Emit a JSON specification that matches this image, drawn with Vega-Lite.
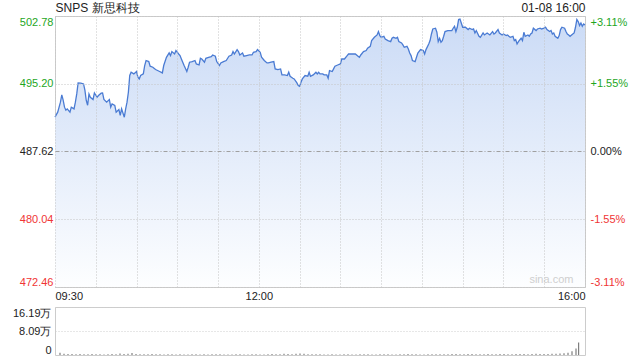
{
  "$schema": "https://vega.github.io/schema/vega-lite/v6.json",
  "autosize": {"type": "pad"},
  "padding": {"left": 11, "top": 0, "right": 5, "bottom": 5},
  "background": "white",
  "config": {
    "font": "Liberation Sans",
    "view": {"stroke": "#cccccc"},
    "axis": {"labelFont": "Liberation Sans", "labelFontSize": 11, "ticks": false, "domain": false, "labelOverlap": false}
  },
  "datasets": {
    "price": [
      {"m":0,"p":491.46},{"m":2,"p":492.02},{"m":4,"p":493.14},{"m":5,"p":493.95},{"m":6,"p":493.36},{"m":7,"p":492.58},{"m":8,"p":492.24},{"m":9,"p":492.39},{"m":11,"p":492.02},{"m":12,"p":492.58},
      {"m":14,"p":492.39},{"m":15,"p":493.14},{"m":16,"p":494.06},{"m":17,"p":495.29},{"m":19,"p":495.26},{"m":21,"p":495.18},{"m":22,"p":494.48},{"m":23,"p":493.33},{"m":24,"p":492.80},{"m":25,"p":494.06},
      {"m":26,"p":493.69},{"m":28,"p":493.44},{"m":29,"p":494.17},{"m":31,"p":493.69},{"m":32,"p":493.88},{"m":34,"p":494.14},{"m":35,"p":494.17},{"m":36,"p":493.44},{"m":38,"p":493.14},{"m":40,"p":493.44},
      {"m":41,"p":492.58},{"m":42,"p":492.95},{"m":44,"p":492.77},{"m":45,"p":492.02},{"m":47,"p":492.32},{"m":48,"p":491.65},{"m":49,"p":492.39},{"m":51,"p":491.46},{"m":52,"p":492.39},{"m":53,"p":493.14},
      {"m":54,"p":494.25},{"m":55,"p":496.12},{"m":56,"p":496.49},{"m":58,"p":496.30},{"m":60,"p":496.57},{"m":61,"p":495.93},{"m":62,"p":495.74},{"m":63,"p":496.12},{"m":65,"p":496.30},{"m":66,"p":497.24},
      {"m":67,"p":497.80},{"m":69,"p":497.68},{"m":70,"p":497.16},{"m":72,"p":497.05},{"m":74,"p":496.79},{"m":77,"p":496.57},{"m":79,"p":496.41},{"m":80,"p":497.24},{"m":82,"p":498.16},{"m":84,"p":498.65},
      {"m":85,"p":498.35},{"m":86,"p":498.80},{"m":88,"p":498.53},{"m":89,"p":498.91},{"m":91,"p":498.53},{"m":92,"p":498.35},{"m":93,"p":497.97},{"m":95,"p":497.24},{"m":97,"p":496.57},{"m":98,"p":497.05},
      {"m":99,"p":497.61},{"m":101,"p":497.68},{"m":103,"p":497.80},{"m":104,"p":497.42},{"m":106,"p":497.30},{"m":107,"p":498.05},{"m":108,"p":497.97},{"m":110,"p":497.61},{"m":111,"p":498.05},{"m":113,"p":498.16},
      {"m":115,"p":498.24},{"m":116,"p":498.42},{"m":118,"p":498.28},{"m":119,"p":497.68},{"m":121,"p":497.24},{"m":122,"p":497.53},{"m":124,"p":497.68},{"m":126,"p":497.80},{"m":128,"p":498.28},{"m":130,"p":498.42},
      {"m":131,"p":498.80},{"m":132,"p":498.53},{"m":134,"p":499.02},{"m":135,"p":498.80},{"m":136,"p":498.42},{"m":138,"p":498.64},{"m":139,"p":498.28},{"m":141,"p":498.35},{"m":143,"p":498.42},{"m":145,"p":498.42},
      {"m":146,"p":498.72},{"m":148,"p":498.80},{"m":149,"p":499.02},{"m":151,"p":498.72},{"m":152,"p":498.16},{"m":154,"p":497.80},{"m":156,"p":497.53},{"m":157,"p":497.53},{"m":159,"p":497.61},{"m":161,"p":497.68},
      {"m":162,"p":496.86},{"m":164,"p":496.79},{"m":166,"p":496.86},{"m":167,"p":496.19},{"m":169,"p":496.19},{"m":171,"p":496.12},{"m":172,"p":496.49},{"m":173,"p":496.04},{"m":175,"p":495.82},{"m":176,"p":495.74},
      {"m":178,"p":495.29},{"m":179,"p":495.00},{"m":180,"p":494.92},{"m":181,"p":495.37},{"m":182,"p":495.74},{"m":184,"p":496.12},{"m":186,"p":496.04},{"m":187,"p":496.49},{"m":188,"p":496.04},{"m":190,"p":496.19},
      {"m":192,"p":496.49},{"m":193,"p":496.30},{"m":194,"p":496.49},{"m":195,"p":496.30},{"m":197,"p":496.30},{"m":198,"p":496.19},{"m":200,"p":496.19},{"m":201,"p":495.82},{"m":202,"p":496.68},{"m":204,"p":496.57},
      {"m":205,"p":496.86},{"m":206,"p":497.16},{"m":208,"p":497.30},{"m":210,"p":497.42},{"m":211,"p":497.97},{"m":213,"p":497.97},{"m":215,"p":498.35},{"m":216,"p":498.53},{"m":218,"p":498.53},{"m":220,"p":498.53},
      {"m":221,"p":498.53},{"m":223,"p":498.28},{"m":224,"p":498.16},{"m":225,"p":498.42},{"m":227,"p":498.80},{"m":229,"p":498.91},{"m":230,"p":499.17},{"m":232,"p":499.39},{"m":233,"p":500.03},{"m":235,"p":500.40},
      {"m":237,"p":500.66},{"m":238,"p":501.04},{"m":239,"p":500.59},{"m":240,"p":500.40},{"m":242,"p":500.51},{"m":243,"p":500.21},{"m":245,"p":500.03},{"m":247,"p":499.92},{"m":248,"p":500.29},{"m":249,"p":500.40},
      {"m":251,"p":500.29},{"m":252,"p":500.40},{"m":253,"p":499.92},{"m":255,"p":499.76},{"m":256,"p":499.54},{"m":257,"p":499.28},{"m":259,"p":499.39},{"m":260,"p":499.09},{"m":261,"p":498.64},{"m":262,"p":498.35},
      {"m":263,"p":497.80},{"m":265,"p":497.68},{"m":266,"p":498.16},{"m":267,"p":498.64},{"m":269,"p":499.02},{"m":271,"p":498.91},{"m":272,"p":498.53},{"m":273,"p":499.02},{"m":275,"p":499.65},{"m":276,"p":500.03},
      {"m":277,"p":500.77},{"m":278,"p":501.33},{"m":280,"p":501.41},{"m":281,"p":500.96},{"m":282,"p":499.92},{"m":283,"p":500.29},{"m":284,"p":499.84},{"m":285,"p":500.03},{"m":286,"p":500.51},{"m":287,"p":501.04},
      {"m":289,"p":501.15},{"m":291,"p":501.15},{"m":292,"p":501.15},{"m":293,"p":501.41},{"m":294,"p":501.63},{"m":295,"p":501.04},{"m":296,"p":501.52},{"m":297,"p":502.38},{"m":298,"p":502.44},{"m":300,"p":501.52},
      {"m":301,"p":501.52},{"m":302,"p":501.52},{"m":304,"p":501.26},{"m":305,"p":501.41},{"m":307,"p":501.26},{"m":308,"p":501.33},{"m":309,"p":500.88},{"m":310,"p":501.15},{"m":312,"p":500.51},{"m":313,"p":500.40},
      {"m":315,"p":500.88},{"m":316,"p":500.66},{"m":318,"p":500.88},{"m":320,"p":500.66},{"m":322,"p":501.04},{"m":323,"p":500.77},{"m":324,"p":500.88},{"m":326,"p":501.26},{"m":327,"p":500.88},{"m":329,"p":500.66},
      {"m":330,"p":500.77},{"m":332,"p":500.59},{"m":333,"p":500.66},{"m":334,"p":500.51},{"m":335,"p":500.40},{"m":337,"p":500.51},{"m":338,"p":500.03},{"m":339,"p":500.14},{"m":340,"p":499.65},{"m":341,"p":499.92},
      {"m":343,"p":500.29},{"m":344,"p":500.03},{"m":345,"p":500.96},{"m":346,"p":500.51},{"m":348,"p":500.66},{"m":349,"p":500.51},{"m":350,"p":500.77},{"m":351,"p":500.88},{"m":352,"p":501.41},{"m":354,"p":501.15},
      {"m":355,"p":501.33},{"m":357,"p":501.41},{"m":358,"p":501.33},{"m":360,"p":501.41},{"m":361,"p":501.52},{"m":362,"p":501.26},{"m":364,"p":501.04},{"m":365,"p":501.15},{"m":366,"p":500.77},{"m":367,"p":500.88},
      {"m":368,"p":500.51},{"m":370,"p":500.29},{"m":371,"p":500.59},{"m":372,"p":501.26},{"m":373,"p":501.52},{"m":375,"p":501.41},{"m":376,"p":501.04},{"m":377,"p":500.77},{"m":378,"p":500.66},{"m":379,"p":500.51},
      {"m":381,"p":500.77},{"m":382,"p":500.88},{"m":383,"p":501.52},{"m":384,"p":502.38},{"m":385,"p":502.15},{"m":386,"p":501.71},{"m":387,"p":502.00},{"m":388,"p":501.63},{"m":389,"p":501.89},{"m":390,"p":501.77}
    ],
    "vol": [
      {"m":0,"v":8000},{"m":3,"v":4000},{"m":6,"v":3000},{"m":9,"v":3500},{"m":12,"v":2500},{"m":15,"v":3000},{"m":18,"v":2800},{"m":21,"v":2200},{"m":24,"v":3000},{"m":27,"v":2600},
      {"m":30,"v":2400},{"m":33,"v":2000},{"m":36,"v":2600},{"m":39,"v":3200},{"m":42,"v":2800},{"m":45,"v":5000},{"m":48,"v":3500},{"m":51,"v":4200},{"m":54,"v":6500},{"m":57,"v":3000},
      {"m":60,"v":2800},{"m":63,"v":2500},{"m":66,"v":2600},{"m":69,"v":3000},{"m":72,"v":2400},{"m":75,"v":2200},{"m":78,"v":2000},{"m":81,"v":2800},{"m":84,"v":2300},{"m":87,"v":2100},
      {"m":90,"v":2600},{"m":93,"v":2000},{"m":96,"v":1900},{"m":99,"v":2400},{"m":102,"v":2200},{"m":105,"v":2000},{"m":108,"v":2500},{"m":111,"v":2100},{"m":114,"v":2300},{"m":117,"v":2800},
      {"m":120,"v":2200},{"m":123,"v":2000},{"m":126,"v":1800},{"m":129,"v":2100},{"m":132,"v":2500},{"m":135,"v":2300},{"m":138,"v":2000},{"m":141,"v":1900},{"m":144,"v":2200},{"m":147,"v":2400},
      {"m":150,"v":2000},{"m":153,"v":1800},{"m":156,"v":2600},{"m":159,"v":3000},{"m":162,"v":2400},{"m":165,"v":2300},{"m":168,"v":4500},{"m":171,"v":3200},{"m":174,"v":2600},{"m":177,"v":3800},
      {"m":180,"v":5000},{"m":183,"v":4200},{"m":186,"v":2800},{"m":189,"v":2500},{"m":192,"v":2400},{"m":195,"v":2200},{"m":198,"v":2000},{"m":201,"v":2100},{"m":204,"v":2300},{"m":207,"v":2000},
      {"m":210,"v":1900},{"m":213,"v":2200},{"m":216,"v":2400},{"m":219,"v":2100},{"m":222,"v":2000},{"m":225,"v":2300},{"m":228,"v":2600},{"m":231,"v":2200},{"m":234,"v":2000},{"m":237,"v":2100},
      {"m":240,"v":2400},{"m":243,"v":2800},{"m":246,"v":2300},{"m":249,"v":2100},{"m":252,"v":2000},{"m":255,"v":2200},{"m":258,"v":2600},{"m":261,"v":3000},{"m":264,"v":2500},{"m":267,"v":2200},
      {"m":270,"v":2100},{"m":273,"v":2000},{"m":276,"v":2300},{"m":279,"v":2500},{"m":282,"v":2800},{"m":285,"v":2400},{"m":288,"v":2200},{"m":291,"v":2600},{"m":294,"v":3000},{"m":297,"v":3400},
      {"m":300,"v":2800},{"m":303,"v":2600},{"m":306,"v":3200},{"m":309,"v":3000},{"m":312,"v":2700},{"m":315,"v":2500},{"m":318,"v":2800},{"m":321,"v":3100},{"m":324,"v":2900},{"m":327,"v":2700},
      {"m":330,"v":3000},{"m":333,"v":3300},{"m":336,"v":2900},{"m":339,"v":2800},{"m":342,"v":3200},{"m":345,"v":3600},{"m":348,"v":3000},{"m":351,"v":2900},{"m":354,"v":3400},{"m":357,"v":3800},
      {"m":360,"v":3500},{"m":363,"v":3200},{"m":366,"v":3600},{"m":369,"v":4000},{"m":372,"v":4500},{"m":375,"v":5000},{"m":378,"v":5500},{"m":381,"v":7500},{"m":384,"v":13000},{"m":387,"v":22000},
      {"m":389,"v":42000}
    ]
  },
  "vconcat": [
    {
      "width": 530,
      "height": 271,
      "data": {"name": "price"},
      "layer": [
        {
          "mark": {"type": "area", "line": false, "fill": {"gradient": "linear", "x1": 0, "y1": 0, "x2": 0, "y2": 1, "stops": [{"offset": 0, "color": "#cbdbf6"}, {"offset": 1, "color": "#fdfeff"}]}},
          "encoding": {
            "x": {"field": "m", "type": "quantitative", "scale": {"domain": [0, 390], "nice": false, "zero": false},
              "axis": {"orient": "bottom", "title": null, "zindex": 1, "values": [0,30,60,90,120,150,180,210,240,270,300,330,360,390],
                "labelExpr": "datum.value == 0 ? '09:30' : datum.value == 150 ? '12:00' : datum.value == 390 ? '16:00' : ''",
                "labelFlush": true, "labelPadding": 3, "labelColor": "#222222", "grid": true, "gridColor": "#c4c4c4", "gridDash": [1, 2]}},
            "y": {"field": "p", "type": "quantitative", "scale": {"domain": [472.46, 502.78], "nice": false, "zero": false},
              "axis": {"orient": "left", "title": null, "zindex": 1, "values": [472.46, 480.04, 487.62, 495.20, 502.78], "format": ".2f",
                "labelFlush": true, "labelPadding": 2,
                "labelColor": {"condition": [{"test": "datum.value > 487.63", "value": "#1ea61e"}, {"test": "datum.value < 487.61", "value": "#f03535"}], "value": "#222222"},
                "grid": true,
                "gridColor": {"condition": {"test": "datum.value > 487.61 && datum.value < 487.63", "value": "#a0a0a0"}, "value": "#c4c4c4"},
                "gridDash": {"condition": {"test": "datum.value > 487.61 && datum.value < 487.63", "value": [4, 2, 1, 2]}, "value": [1, 2]}}},
            "y2": {"datum": 472.46}
          }
        },
        {
          "mark": {"type": "line", "color": "#4a7bd3", "strokeWidth": 1.3},
          "encoding": {
            "x": {"field": "m", "type": "quantitative",
              "axis": {"orient": "top", "title": null, "values": [0, 390], "labelExpr": "datum.value == 0 ? 'SNPS 新思科技' : '01-08 16:00'",
                "labelFlush": true, "labelFontSize": 12, "labelColor": "#222222", "labelPadding": 2, "grid": false}},
            "y": {"field": "p", "type": "quantitative",
              "axis": {"orient": "right", "title": null, "values": [472.46, 480.04, 487.62, 495.20, 502.78],
                "labelExpr": "datum.value > 487.63 ? '+' + format((datum.value - 487.62) / 487.62, '.2%') : datum.value < 487.61 ? '-' + format((487.62 - datum.value) / 487.62, '.2%') : '0.00%'",
                "labelFlush": true, "labelPadding": 5, "grid": false,
                "labelColor": {"condition": [{"test": "datum.value > 487.63", "value": "#1ea61e"}, {"test": "datum.value < 487.61", "value": "#f03535"}], "value": "#222222"}}}
          }
        },
        {
          "data": {"values": [{"m": 381.5, "p": 472.7, "label": "sina.com"}]},
          "mark": {"type": "text", "align": "right", "baseline": "bottom", "fontSize": 11, "color": "#cfcfcf"},
          "encoding": {
            "x": {"field": "m", "type": "quantitative", "axis": null},
            "y": {"field": "p", "type": "quantitative", "axis": null},
            "text": {"field": "label"}
          }
        }
      ],
      "resolve": {"axis": {"x": "independent", "y": "independent"}}
    },
    {
      "width": 530,
      "height": 48,
      "data": {"name": "vol"},
      "mark": {"type": "bar", "size": 1, "color": "#666666"},
      "encoding": {
        "x": {"field": "m", "type": "quantitative", "scale": {"domain": [0, 390], "nice": false, "zero": false}, "axis": null},
        "y": {"field": "v", "type": "quantitative", "scale": {"domain": [0, 161900], "nice": false},
          "axis": {"title": null, "values": [0, 80900, 161900], "labelFlush": true, "labelPadding": 4, "labelColor": "#222222",
            "labelExpr": "datum.value == 0 ? '0' : format(datum.value / 10000, '.2f') + '万'",
            "grid": true, "gridColor": {"condition": {"test": "datum.value == 0", "value": "transparent"}, "value": "#cfcfcf"}, "gridDash": [1, 2]}}
      }
    }
  ],
  "spacing": 20,
  "bounds": "flush"
}
